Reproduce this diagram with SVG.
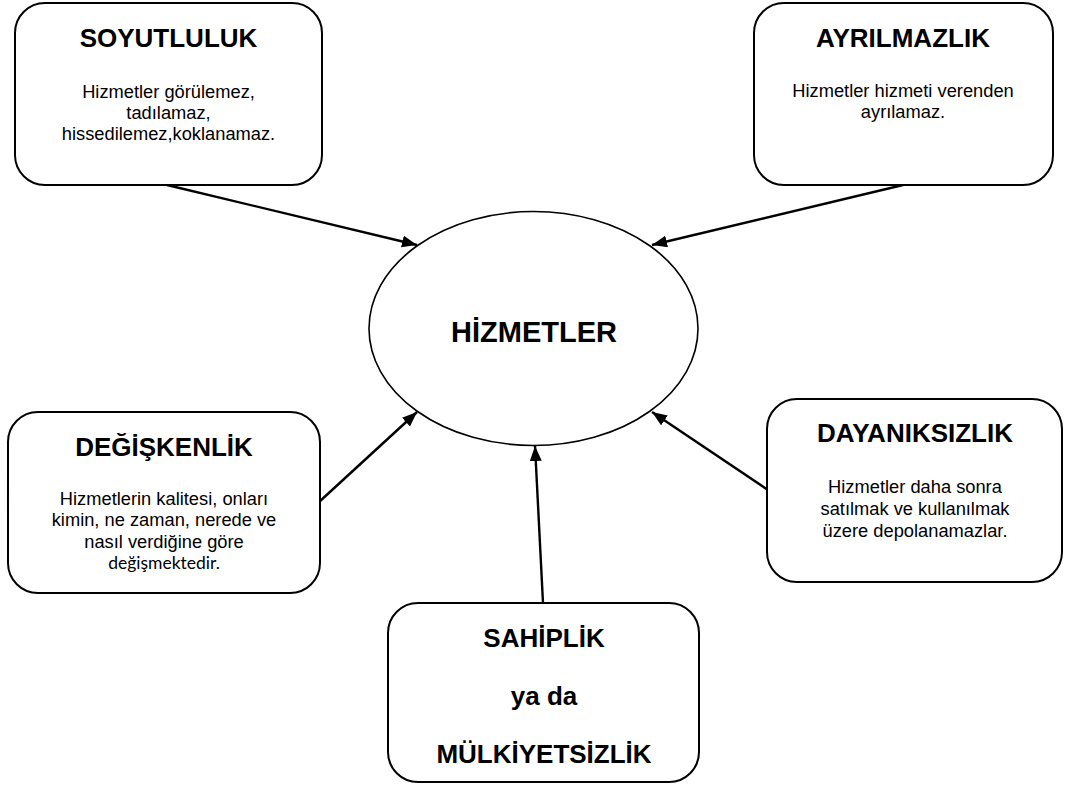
<svg xmlns="http://www.w3.org/2000/svg" width="1066" height="787" viewBox="0 0 1066 787">
<style>
.box{fill:#fff;stroke:#000;stroke-width:2}
.ell{fill:#fff;stroke:#000;stroke-width:1.6}
.t{font-family:"Liberation Sans",Arial,sans-serif;font-weight:bold;font-size:26px;text-anchor:middle;fill:#000}
.big{font-size:29px}
.b{font-family:"Liberation Sans",Arial,sans-serif;font-size:18.3px;text-anchor:middle;fill:#000}
.c{font-family:Lato,"Open Sans",sans-serif;font-size:17.5px;text-anchor:middle;fill:#000}
.con line{stroke:#000;stroke-width:2.4;marker-end:url(#ah)}
</style>
<defs>
<marker id="ah" markerUnits="userSpaceOnUse" markerWidth="16" markerHeight="14" refX="15" refY="6" orient="auto">
<path d="M0,0 L15,6 L0,12 z" fill="#000"/>
</marker>
</defs>
<rect width="1066" height="787" fill="#fff"/>
<g id="connectors" class="con">
<line x1="167" y1="185" x2="417" y2="245"/>
<line x1="903" y1="185" x2="652" y2="245"/>
<line x1="319" y1="502" x2="417" y2="412"/>
<line x1="768" y1="490" x2="652" y2="412"/>
<line x1="543" y1="603" x2="535" y2="446"/>
</g>
<g id="hizmetler">
<ellipse class="ell" cx="533.5" cy="328.5" rx="164.5" ry="117"/>
<text class="t big" x="534" y="342">HİZMETLER</text>
</g>
<g id="soyutluluk">
<rect class="box" x="15" y="3" width="307" height="182" rx="30"/>
<text class="t" x="168.5" y="47">SOYUTLULUK</text>
<text class="b" x="168.5" y="98">Hizmetler görülemez,</text>
<text class="b" x="168.5" y="119">tadılamaz,</text>
<text class="b" x="168.5" y="140">hissedilemez,koklanamaz.</text>
</g>
<g id="ayrilmazlik">
<rect class="box" x="754" y="3" width="299" height="182" rx="30"/>
<text class="t" x="903" y="47">AYRILMAZLIK</text>
<text class="b" x="903" y="97">Hizmetler hizmeti verenden</text>
<text class="b" x="903" y="118">ayrılamaz.</text>
</g>
<g id="degiskenlik">
<rect class="box" x="8" y="412" width="312" height="181" rx="30"/>
<text class="t" x="164" y="456">DEĞİŞKENLİK</text>
<text class="b" x="164" y="505">Hizmetlerin kalitesi, onları</text>
<text class="b" x="164" y="526">kimin, ne zaman, nerede ve</text>
<text class="b" x="164" y="548">nasıl verdiğine göre</text>
<text class="c" x="164" y="569">değişmektedir.</text>
</g>
<g id="dayaniksizlik">
<rect class="box" x="767" y="399" width="295" height="183" rx="30"/>
<text class="t" x="915" y="442">DAYANIKSIZLIK</text>
<text class="b" x="915" y="493">Hizmetler daha sonra</text>
<text class="b" x="915" y="515">satılmak ve kullanılmak</text>
<text class="b" x="915" y="537">üzere depolanamazlar.</text>
</g>
<g id="sahiplik">
<rect class="box" x="388" y="603" width="311" height="179" rx="30"/>
<text class="t" x="544" y="647">SAHİPLİK</text>
<text class="t" x="544" y="705">ya da</text>
<text class="t" x="544" y="763">MÜLKİYETSİZLİK</text>
</g>
</svg>
